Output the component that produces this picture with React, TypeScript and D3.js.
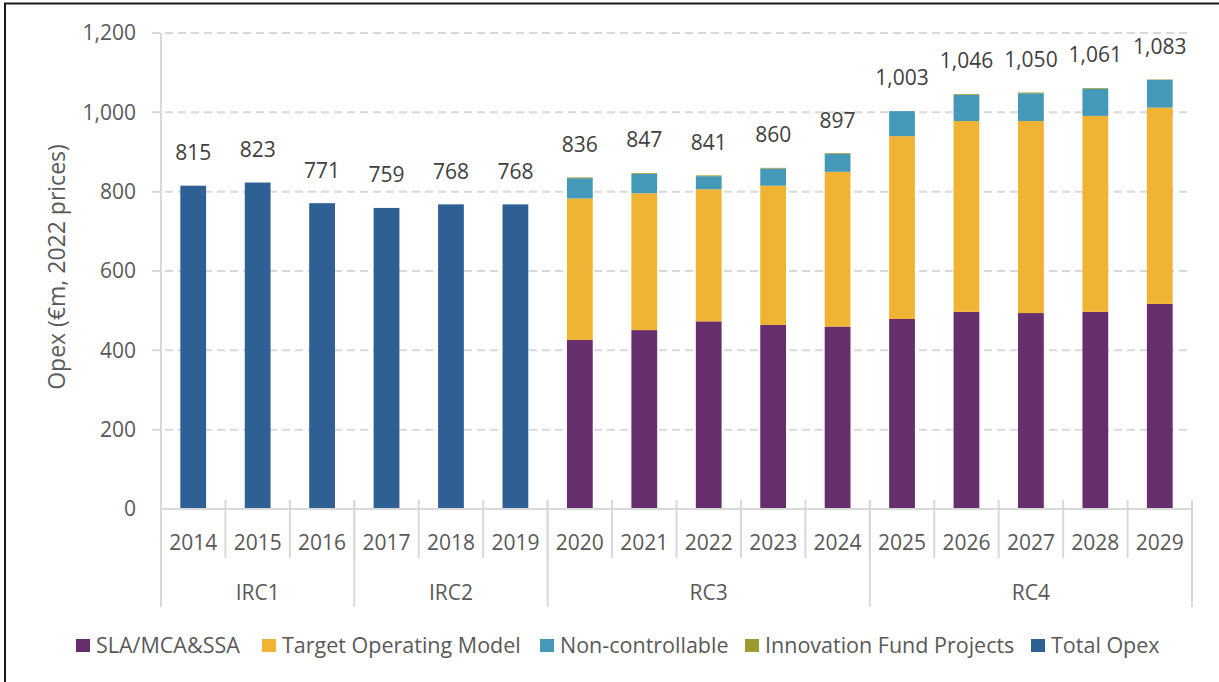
import * as d3 from 'd3';

// years on the category axis
const years = ['2014','2015','2016','2017','2018','2019','2020','2021','2022','2023','2024','2025','2026','2027','2028','2029'];
// control periods (second row of the axis)
const periods = [
  {name:'IRC1', first:'2014', last:'2016'},
  {name:'IRC2', first:'2017', last:'2019'},
  {name:'RC3', first:'2020', last:'2024'},
  {name:'RC4', first:'2025', last:'2029'},
];

// 2014-2019 only have a total
const totalYears = ['2014','2015','2016','2017','2018','2019'];
const totalOpex = [815, 823, 771, 759, 768, 768];

// 2020-2029 are split up
const splitYears = ['2020','2021','2022','2023','2024','2025','2026','2027','2028','2029'];
const slaMcaSsa = [426, 451, 473, 464, 460, 479, 497, 494, 497, 517];
const targetOpModel = [357, 345, 333, 351, 390, 461, 481, 484, 494, 495];
const nonControllable = [51, 49, 33, 43, 45, 63, 66, 70, 68, 70];
const innovationFund = [2, 2, 2, 2, 2, 0, 2, 2, 2, 1];

// labels printed above the bars
const totalLabels = [815, 823, 771, 759, 768, 768, 836, 847, 841, 860, 897, 1003, 1046, 1050, 1061, 1083];

const yTicks = [0, 200, 400, 600, 800, 1000, 1200];

const seriesKeys = ['sla','tom','nc','inf'];
const seriesNames = {sla:'SLA/MCA&SSA', tom:'Target Operating Model', nc:'Non-controllable', inf:'Innovation Fund Projects', total:'Total Opex'};
const colors = {sla:'#662e6d', tom:'#f0b334', nc:'#4499b8', inf:'#9c9b2f', total:'#2f6094'};

const font = "'Open Sans', 'Noto Sans', sans-serif";
const grey = '#595959';
const gridGrey = '#d9d9d9';

export default function App(){
  const width = 1219;
  const height = 682;
  const marginLeft = 161;
  const marginRight = 27;
  const marginTop = 33;
  const axisY = 509;

  const x = d3.scaleBand()
    .domain(years)
    .range([marginLeft, width - marginRight]);
  const step = x.step();
  const barW = step * 0.4;

  const y = d3.scaleLinear()
    .domain([0, 1200])
    .range([axisY, marginTop]);

  const rows = splitYears.map((yr,i) => ({
    year: yr,
    sla: slaMcaSsa[i],
    tom: targetOpModel[i],
    nc: nonControllable[i],
    inf: innovationFund[i],
  }));
  const stacked = d3.stack().keys(seriesKeys)(rows);

  // legend entries, x positions follow the reference layout
  const legend = [
    {key:'sla', x:76},
    {key:'tom', x:262},
    {key:'nc', x:540},
    {key:'inf', x:745},
    {key:'total', x:1031},
  ];

  return (
    <svg width={width} height={height} style={{position:'absolute', left:0, top:0, background:'#fff'}} fontFamily={font}>
      <rect x={5} y={3.5} width={width + 20} height={height + 20} fill="none" stroke="#1a1a1a" strokeWidth={2}/>

      {/* gridlines */}
      {yTicks.filter(t => t > 0).map(t =>
        <line key={t} x1={152} x2={width - marginRight} y1={y(t)} y2={y(t)} stroke={gridGrey} strokeWidth={2} strokeDasharray="8,5"/>
      )}
      {yTicks.map(t =>
        <text key={'l'+t} x={136} y={y(t)} dy="0.35em" textAnchor="end" fontSize={21} fill={grey}>{d3.format(',')(t)}</text>
      )}
      <text transform={`translate(57,267) rotate(-90)`} textAnchor="middle" dy="0.35em" fontSize={23} fill={grey}>Opex (€m, 2022 prices)</text>

      {/* total opex bars */}
      {totalYears.map((yr,i) =>
        <rect key={yr} x={x(yr) + (step - barW) / 2} width={barW} y={y(totalOpex[i])} height={y(0) - y(totalOpex[i])} fill={colors.total}/>
      )}
      {/* stacked bars */}
      {stacked.map(s =>
        <g key={s.key} fill={colors[s.key]}>
          {s.map(d =>
            <rect key={d.data.year} x={x(d.data.year) + (step - barW) / 2} width={barW} y={y(d[1])} height={Math.max(0, y(d[0]) - y(d[1]))}/>
          )}
        </g>
      )}
      {/* value labels */}
      {years.map((yr,i) =>
        <text key={'v'+yr} x={x(yr) + step / 2} y={y(totalLabels[i]) - 33} dy="0.35em" textAnchor="middle" fontSize={21} fill="#404040">{d3.format(',')(totalLabels[i])}</text>
      )}

      {/* category axis */}
      <line x1={marginLeft} x2={width - marginRight} y1={axisY} y2={axisY} stroke={gridGrey} strokeWidth={2}/>
      <line x1={marginLeft} x2={marginLeft} y1={marginTop} y2={axisY} stroke={gridGrey} strokeWidth={2}/>
      {years.slice(1).map(yr =>
        <line key={'t'+yr} x1={x(yr)} x2={x(yr)} y1={axisY - 9} y2={558} stroke={gridGrey} strokeWidth={2}/>
      )}
      {years.map(yr =>
        <text key={'y'+yr} x={x(yr) + step / 2} y={543} dy="0.35em" textAnchor="middle" fontSize={21} fill={grey}>{yr}</text>
      )}
      {periods.map((p,i) =>
        <g key={p.name}>
          {i === 0 && <line x1={x(p.first)} x2={x(p.first)} y1={axisY - 9} y2={607} stroke={gridGrey} strokeWidth={2}/>}
          <line x1={x(p.last) + step} x2={x(p.last) + step} y1={axisY - 9} y2={607} stroke={gridGrey} strokeWidth={2}/>
          <text x={(x(p.first) + x(p.last) + step) / 2} y={593} dy="0.35em" textAnchor="middle" fontSize={21} fill={grey}>{p.name}</text>
        </g>
      )}

      {/* legend */}
      {legend.map(l =>
        <g key={l.key} transform={`translate(${l.x},639)`}>
          <rect width={14} height={13} fill={colors[l.key]}/>
          <text x={20} y={6.5} dy="0.35em" fontSize={21.5} fill={grey}>{seriesNames[l.key]}</text>
        </g>
      )}
    </svg>
  );
}
